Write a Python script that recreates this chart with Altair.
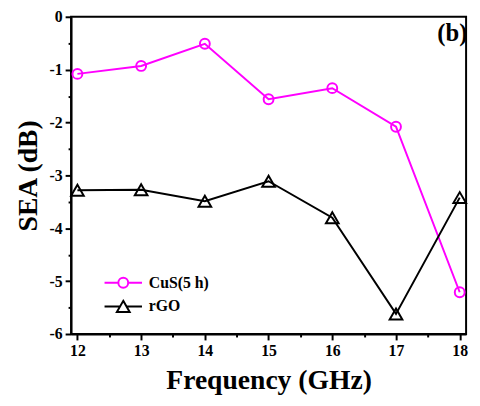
import altair as alt
import pandas as pd

# values
freq = [12, 13, 14, 15, 16, 17, 18]
cus_sea = [-1.08, -0.93, -0.51, -1.56, -1.35, -2.08, -5.21]
rgo_sea = [-3.28, -3.27, -3.49, -3.11, -3.80, -5.62, -3.42]
samples = ['CuS(5 h)', 'rGO']
colors = ['#ff00ff', '#000000']

x_ticks = [12, 12.5, 13, 13.5, 14, 14.5, 15, 15.5, 16, 16.5, 17, 17.5, 18]
y_ticks = [-6, -5.5, -5, -4.5, -4, -3.5, -3, -2.5, -2, -1.5, -1, -0.5, 0]

FONT = 'Liberation Serif'

df = pd.DataFrame({
    'Frequency': freq + freq,
    'SEA': cus_sea + rgo_sea,
    'Sample': [samples[0]] * len(freq) + [samples[1]] * len(freq),
})

# legend glyphs: marker with a line through it, as Origin draws them
circle_glyph = 'M-3.8,0L-1,0M1,0L3.8,0M-1,0A1,1,0,1,1,1,0A1,1,0,1,1,-1,0'
triangle_glyph = 'M-3.8,0L-0.65,0M0.65,0L3.8,0M0,-1.13L1.3,1.13L-1.3,1.13Z'

major = 'datum.value % 1 === 0'
x_axis = alt.Axis(
    values=x_ticks,
    labelExpr=f"{major} ? '' + datum.value : ''",
    tickSize={'condition': {'test': major, 'value': 6}, 'value': 3},
    labelPadding=3, titlePadding=8, titleFontSize=28,
)
y_axis = alt.Axis(
    values=y_ticks,
    labelExpr=f"{major} ? '' + datum.value : ''",
    tickSize={'condition': {'test': major, 'value': 6}, 'value': 3},
    labelPadding=3, titlePadding=7, titleFontSize=28,
)

x = alt.X('Frequency:Q', title='Frequency (GHz)',
          scale=alt.Scale(domain=[11.9, 18.1], nice=False, zero=False),
          axis=x_axis)
y = alt.Y('SEA:Q', title='SEA (dB)',
          scale=alt.Scale(domain=[-6, 0], nice=False),
          axis=y_axis)

base = alt.Chart(df)


def series(name, col, shape, size):
    sub = base.transform_filter(alt.datum.Sample == name)
    line = sub.mark_line(color=col, strokeWidth=2).encode(x=x, y=y)
    pts = sub.mark_point(shape=shape, size=size, color=col, filled=False,
                         strokeWidth=2, opacity=1).encode(x=x, y=y)
    return line + pts


cus = series(samples[0], colors[0], 'circle', 100)
rgo = series(samples[1], colors[1], 'triangle-up', 165)

legend = alt.Legend(
    title=None, orient='none', legendX=45, legendY=262, padding=0,
    symbolSize=100, symbolStrokeWidth=2, symbolOpacity=1,
    labelFont=FONT, labelFontSize=16, labelFontWeight='bold',
    labelColor='black', labelOffset=18, rowPadding=5,
)
legend_layer = base.transform_filter('false').mark_point(
    filled=False, strokeWidth=2, opacity=1
).encode(
    x=x, y=y,
    color=alt.Color('Sample:N', legend=legend,
                    scale=alt.Scale(domain=samples, range=colors)),
    shape=alt.Shape('Sample:N', legend=legend,
                    scale=alt.Scale(domain=samples,
                                    range=[circle_glyph, triangle_glyph])),
)

panel = alt.Chart(pd.DataFrame({'t': ['(b)']})).mark_text(
    font=FONT, fontSize=25, fontWeight='bold', color='black',
    align='center', baseline='middle'
).encode(text='t:N', x=alt.value(387), y=alt.value(17))

chart = alt.layer(cus, rgo, legend_layer, panel).properties(
    width=401, height=322,
    autosize=alt.AutoSizeParams(type='none'),
    padding={'left': 64, 'top': 6, 'right': 6, 'bottom': 60},
).configure_view(
    stroke='black', strokeWidth=2
).configure_axis(
    grid=False, domainColor='black', domainWidth=2,
    tickColor='black', tickWidth=2,
    labelFont=FONT, labelFontSize=16, labelFontWeight='bold', labelColor='black',
    titleFont=FONT, titleFontWeight='bold', titleColor='black',
)

chart.save('out.html', embed_options={'renderer': 'svg', 'actions': False})
